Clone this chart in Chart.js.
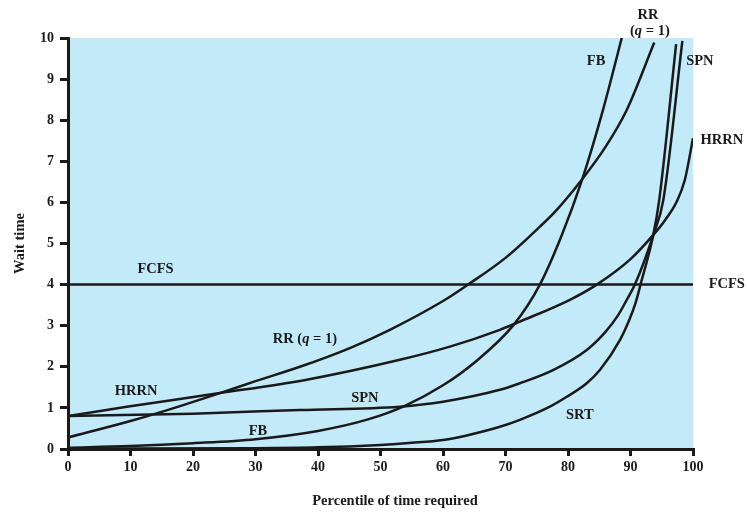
<!DOCTYPE html>
<html>
<head>
<meta charset="utf-8">
<title>Wait time by percentile</title>
<script src="https://cdn.jsdelivr.net/npm/chart.js@4.4.1/dist/chart.umd.min.js"></script>
<style>
  html, body { margin: 0; padding: 0; background: #fff; }
</style>
</head>
<body>
<canvas id="canvas" width="747" height="513"></canvas>
<script>
// percentile of time required (x) and wait time (y) for each policy
const fcfsX = [0, 100];
const fcfsY = [4, 4];

const rrX = [0, 10, 14.7, 24.3, 30, 37.1, 45, 51.5, 60, 64, 70, 75.5, 78.2, 82.3, 86, 89.4, 93.8];
const rrY = [0.28, 0.68, 0.89, 1.36, 1.65, 2.0, 2.45, 2.9, 3.6, 4.0, 4.65, 5.41, 5.82, 6.57, 7.35, 8.25, 9.89];

const hrrnX = [0, 9.4, 24.3, 38, 53.1, 61.1, 69.1, 72.3, 80.3, 84.6, 90, 93.65, 95.5, 97.4, 98.7, 100];
const hrrnY = [0.8, 1.03, 1.36, 1.68, 2.17, 2.49, 2.9, 3.1, 3.63, 4.0, 4.62, 5.21, 5.56, 6.02, 6.55, 7.56];

const spnX = [0, 20, 37.1, 53.1, 60, 69.1, 72.3, 77.6, 83, 86, 88, 89.4, 90.7, 93.65, 95.25, 98.3];
const spnY = [0.8, 0.86, 0.95, 1.03, 1.15, 1.44, 1.6, 1.92, 2.41, 2.85, 3.25, 3.63, 4.0, 5.21, 6.06, 9.93];

const fbX = [0, 10, 20, 30, 40, 48, 53.9, 60, 65, 71.3, 75.5, 79, 82.3, 85.6, 88.6];
const fbY = [0.03, 0.07, 0.14, 0.24, 0.44, 0.72, 1.05, 1.55, 2.1, 3.02, 4.0, 5.2, 6.57, 8.25, 10];

const srtX = [0, 30, 40, 50, 55, 60, 63.8, 69.1, 72.3, 77.1, 79.8, 83, 85.1, 88.3, 89.8, 90.8, 91.6, 93.65, 94.6, 97.3];
const srtY = [0.01, 0.02, 0.04, 0.1, 0.15, 0.22, 0.33, 0.54, 0.71, 1.03, 1.27, 1.6, 1.92, 2.65, 3.14, 3.55, 4.0, 5.21, 6.06, 9.85];

const xTicks = [0, 10, 20, 30, 40, 50, 60, 70, 80, 90, 100];
const yTicks = [0, 1, 2, 3, 4, 5, 6, 7, 8, 9, 10];

const INK = '#1a1a1a';
const FONT = '"Liberation Serif", "Times New Roman", serif';

function pts(xs, ys) {
  return xs.map((x, i) => ({ x: x, y: ys[i] }));
}

function series(label, xs, ys) {
  return {
    label: label,
    data: pts(xs, ys),
    borderColor: INK,
    borderWidth: 2.5,
    pointRadius: 0,
    fill: false,
    cubicInterpolationMode: 'monotone'
  };
}

// curve names placed next to the lines, in data units
const curveLabels = [
  { text: 'FCFS', x: 14, y: 4.38 },
  { text: 'FCFS', x: 105.4, y: 4.0 },
  { text: 'HRRN', x: 10.9, y: 1.41 },
  { text: 'SPN', x: 47.5, y: 1.24 },
  { text: 'FB', x: 30.4, y: 0.44 },
  { text: 'SRT', x: 81.9, y: 0.83 },
  { text: 'FB', x: 84.5, y: 9.44 },
  { text: 'SPN', x: 101.1, y: 9.44 },
  { text: 'HRRN', x: 104.6, y: 7.52 },
  { text: 'RR', x: 92.8, y: 10.56 },
  { text: 'RR_Q', x: 93.1, y: 10.16 },
  { text: 'RR (Q', x: 37.9, y: 2.68 }
];

// draws "(q = 1)" style text with an italic q, centred on cx
function drawRuns(ctx, runs, cx, cy) {
  let total = 0;
  runs.forEach(r => { ctx.font = r.font; total += ctx.measureText(r.t).width; });
  let x = cx - total / 2;
  ctx.textAlign = 'left';
  runs.forEach(r => {
    ctx.font = r.font;
    ctx.fillText(r.t, x, cy);
    x += ctx.measureText(r.t).width;
  });
}

const labelPlugin = {
  id: 'labelPlugin',
  beforeDraw(chart) {
    const { ctx, chartArea: a } = chart;
    ctx.save();
    ctx.fillStyle = '#c2eaf8';
    ctx.fillRect(a.left, a.top, a.right - a.left, a.bottom - a.top);
    ctx.restore();
  },
  afterDraw(chart) {
    const { ctx, chartArea: a } = chart;
    const xs = chart.scales.x, ys = chart.scales.y;
    const bold = 'bold 14.5px ' + FONT;
    const boldItalic = 'italic bold 14.5px ' + FONT;
    ctx.save();
    ctx.fillStyle = INK;
    ctx.textBaseline = 'middle';
    curveLabels.forEach(l => {
      const px = xs.getPixelForValue(l.x);
      const py = ys.getPixelForValue(l.y);
      if (l.text === 'RR_Q') {
        drawRuns(ctx, [{ t: '(', font: bold }, { t: 'q', font: boldItalic }, { t: ' = 1)', font: bold }], px, py);
      } else if (l.text === 'RR (Q') {
        drawRuns(ctx, [{ t: 'RR (', font: bold }, { t: 'q', font: boldItalic }, { t: ' = 1)', font: bold }], px, py);
      } else {
        ctx.font = bold;
        ctx.textAlign = 'center';
        ctx.fillText(l.text, px, py);
      }
    });

    // axis titles
    ctx.font = bold;
    ctx.textAlign = 'center';
    ctx.fillText('Percentile of time required', 395, 501);
    ctx.translate(20, (a.top + a.bottom) / 2);
    ctx.rotate(-Math.PI / 2);
    ctx.fillText('Wait time', 0, 0);
    ctx.restore();
  }
};

const ctx = document.getElementById('canvas').getContext('2d');

const myChart = new Chart(ctx, {
  type: 'line',
  data: {
    datasets: [
      series('FCFS', fcfsX, fcfsY),
      series('RR (q = 1)', rrX, rrY),
      series('HRRN', hrrnX, hrrnY),
      series('SPN', spnX, spnY),
      series('FB', fbX, fbY),
      series('SRT', srtX, srtY)
    ]
  },
  options: {
    responsive: false,
    animation: false,
    events: [],
    layout: { padding: { left: 0, top: 38, right: 54, bottom: 0 } },
    plugins: {
      legend: { display: false },
      tooltip: { enabled: false }
    },
    scales: {
      x: {
        type: 'linear',
        min: 0,
        max: 100,
        afterFit(scale) { scale.height = 64; },
        afterBuildTicks(scale) { scale.ticks = xTicks.map(v => ({ value: v })); },
        border: { color: INK, width: 3 },
        grid: { drawOnChartArea: false, tickLength: 7, color: INK, lineWidth: 3 },
        ticks: {
          color: INK,
          padding: 3,
          maxRotation: 0,
          font: { family: FONT, weight: 'bold', size: 14 }
        }
      },
      y: {
        type: 'linear',
        min: 0,
        max: 10,
        afterFit(scale) { scale.width = 68; },
        afterBuildTicks(scale) { scale.ticks = yTicks.map(v => ({ value: v })); },
        border: { color: INK, width: 3 },
        grid: { drawOnChartArea: false, tickLength: 8, color: INK, lineWidth: 3 },
        ticks: {
          color: INK,
          padding: 6,
          font: { family: FONT, weight: 'bold', size: 14 }
        }
      }
    }
  },
  plugins: [labelPlugin]
});
</script>
</body>
</html>
